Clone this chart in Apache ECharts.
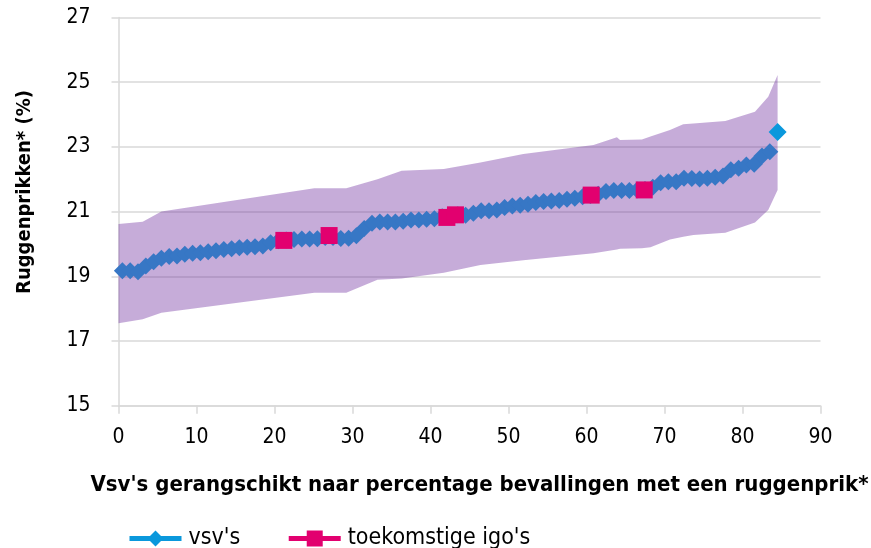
<!DOCTYPE html>
<html><head><meta charset="utf-8">
<script src="https://cdn.jsdelivr.net/npm/echarts@6/dist/echarts.min.js"></script>
<style>html,body{margin:0;padding:0;background:#fff}#c{width:871px;height:548px}</style>
</head><body><div id="c"></div>
<script>
// ---- data ----
const xTickLabels = [0, 10, 20, 30, 40, 50, 60, 70, 80, 90];
const yTickLabels = [15, 17, 19, 21, 23, 25, 27];

const vsvRanks = [1,2,3,4,5,6,7,8,9,10,11,12,13,14,15,16,17,18,19,20,21,22,23,24,25,26,27,28,29,30,
  31,32,33,34,35,36,37,38,39,40,41,42,43,44,45,46,47,48,49,50,51,52,53,54,55,56,57,58,59,60,
  61,62,63,64,65,66,67,68,69,70,71,72,73,74,75,76,77,78,79,80,81,82,83,84];
const vsvValues = [19.17,19.17,19.14,19.32,19.45,19.56,19.61,19.63,19.68,19.71,
  19.73,19.76,19.79,19.83,19.85,19.88,19.90,19.91,19.94,20.04,
  20.10,20.12,20.14,20.15,20.15,20.16,20.20,20.20,20.17,20.18,
  20.25,20.48,20.64,20.68,20.68,20.68,20.70,20.74,20.74,20.76,
  20.78,20.84,20.89,20.90,20.89,20.95,21.03,21.03,21.05,21.13,
  21.17,21.20,21.23,21.28,21.31,21.33,21.34,21.38,21.41,21.46,
  21.50,21.54,21.62,21.65,21.65,21.65,21.67,21.68,21.75,21.89,
  21.92,21.92,22.03,22.02,22.01,22.03,22.06,22.10,22.29,22.34,
  22.44,22.46,22.72,22.85];

const topVsvRank = [85];
const topVsvValue = [23.46];

const igoX = [21.2, 27.0, 42.1, 43.2, 60.6, 67.4];
const igoValues = [20.11, 20.26, 20.82, 20.90, 21.51, 21.67];

const bandX =     [0, 3.1, 5.5, 25.1, 29.2, 33.2, 36.3, 41.7, 46.4, 51.9, 60.9, 63.9, 64.3, 67.1, 68.2, 70.7, 72.4, 73.7, 77.8, 81.6, 83.3, 84.5];
const bandUpper = [20.62, 20.69, 21.0, 21.72, 21.72, 22.0, 22.26, 22.32, 22.52, 22.78, 23.06, 23.3, 23.21, 23.23, 23.32, 23.52, 23.7, 23.72, 23.8, 24.09, 24.55, 25.22];
const bandLower = [17.55, 17.67, 17.87, 18.49, 18.49, 18.89, 18.93, 19.11, 19.35, 19.5, 19.71, 19.83, 19.85, 19.87, 19.9, 20.14, 20.22, 20.28, 20.35, 20.66, 21.05, 21.67];

// ---- chart ----
const FONT = "'DejaVu Sans Condensed', 'Liberation Sans Narrow', 'Noto Sans', sans-serif";
const rankCentre = r => r - 0.5; // each ranked vsv is centred in its slot

const chart = echarts.init(document.getElementById('c'), null, {renderer: 'canvas'});
chart.setOption({
  animation: false,
  backgroundColor: '#fff',
  grid: {left: 118.5, right: 50.5, top: 17.5, bottom: 142.3, containLabel: false},
  xAxis: {
    type: 'value', min: xTickLabels[0], max: xTickLabels[xTickLabels.length - 1], interval: 10,
    axisLine: {show: true, lineStyle: {color: '#d9d9d9', width: 1.5}},
    axisTick: {show: true, length: 8, lineStyle: {color: '#d9d9d9', width: 1.5}},
    splitLine: {show: false},
    axisLabel: {margin: 21, color: '#000', fontSize: 21, fontFamily: FONT,
      formatter: v => xTickLabels.includes(v) ? String(v) : ''}
  },
  yAxis: {
    type: 'value', min: yTickLabels[0], max: yTickLabels[yTickLabels.length - 1], interval: 2,
    axisLine: {show: true, lineStyle: {color: '#d9d9d9', width: 1.5}},
    axisTick: {show: true, length: 7, lineStyle: {color: '#d9d9d9', width: 1.5}},
    splitLine: {show: true, lineStyle: {color: '#d9d9d9', width: 1.5}},
    axisLabel: {margin: 28, color: '#000', fontSize: 21, fontFamily: FONT,
      formatter: v => yTickLabels.includes(v) ? String(v) : ''}
  },
  legend: {
    left: 127, top: 527, padding: 0,
    itemWidth: 52, itemHeight: 20, itemGap: 46,
    textStyle: {fontSize: 23, color: '#000', fontFamily: FONT, padding: [0, 0, 0, 2]},
    lineStyle: {width: 5},
    data: [
      {name: "vsv's"},
      {name: "toekomstige igo's", lineStyle: {width: 5, opacity: 1}}
    ]
  },
  graphic: [
    {type: 'text', x: 25, y: 192, rotation: Math.PI / 2,
      style: {text: 'Ruggenprikken* (%)', font: "bold 20px " + FONT, fill: '#000', align: 'center', verticalAlign: 'middle'}},
    {type: 'text', x: 479.5, y: 485,
      style: {text: "Vsv's gerangschikt naar percentage bevallingen met een ruggenprik*", font: "bold 22px " + FONT, fill: '#000', align: 'center', verticalAlign: 'middle'}}
  ],
  series: [
    {name: 'band', type: 'custom', silent: true, z: 1, clip: true,
      data: [[bandX[0], bandLower[0]]],
      renderItem: (params, api) => {
        const pts = [];
        for (let i = 0; i < bandX.length; i++) pts.push(api.coord([bandX[i], bandUpper[i]]));
        for (let i = bandX.length - 1; i >= 0; i--) pts.push(api.coord([bandX[i], bandLower[i]]));
        return {type: 'polygon', shape: {points: pts}, style: {fill: 'rgba(112,48,160,0.4)'}};
      }},
    {name: 'vsvLine', type: 'line', symbol: 'diamond', symbolSize: 17,
      itemStyle: {color: '#3777c5'}, lineStyle: {color: '#3777c5', width: 6},
      data: vsvRanks.map((r, i) => [rankCentre(r), vsvValues[i]]), z: 3},
    {name: "vsv's", type: 'line', symbol: 'diamond', symbolSize: 18,
      itemStyle: {color: '#0a98dc'}, lineStyle: {color: '#0a98dc', width: 5},
      data: topVsvRank.map((r, i) => [rankCentre(r), topVsvValue[i]]), z: 4},
    {name: "toekomstige igo's", type: 'line', symbol: 'rect', symbolSize: 17,
      itemStyle: {color: '#e2006f'}, lineStyle: {color: '#e2006f', width: 5, opacity: 0},
      data: igoX.map((x, i) => [x, igoValues[i]]), z: 5}
  ]
});
</script></body></html>
